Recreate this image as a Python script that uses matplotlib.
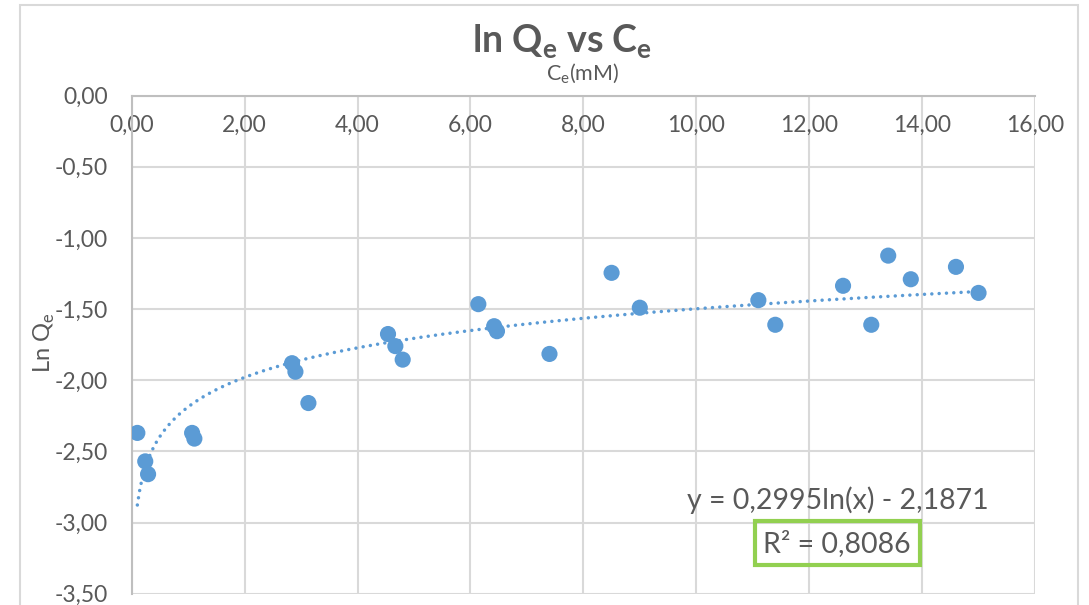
import numpy as np
import matplotlib.pyplot as plt
from matplotlib.patches import Rectangle
from matplotlib.ticker import FuncFormatter

plt.rcParams['font.family'] = ['Lato', 'DejaVu Sans']

# equilibrium concentration (mM) and ln of adsorbed amount
ce = [0.10, 0.24, 0.29, 1.07, 1.11, 2.84, 2.90, 3.13, 4.54, 4.67, 4.80,
      6.14, 6.42, 6.47, 7.40, 8.50, 9.00, 11.10, 11.40, 12.60, 13.10,
      13.40, 13.80, 14.60, 15.00]
ln_qe = [-2.37, -2.57, -2.66, -2.37, -2.41, -1.88, -1.94, -2.16, -1.675,
         -1.76, -1.855, -1.465, -1.62, -1.655, -1.815, -1.245, -1.49,
         -1.437, -1.61, -1.336, -1.61, -1.124, -1.29, -1.203, -1.386]

# log trendline coefficients
slope = 0.2995
intercept = -2.1871
r2 = 0.8086

txt = '#595959'
grid = '#D9D9D9'
blue = '#5B9BD5'

fig = plt.figure(figsize=(10.89, 6.05), dpi=100)
W, H = 1089, 605

# chart frame
fig.patches.append(Rectangle((20 / W, -0.1), (1078 - 20) / W, 1.1 - 5 / H,
                             transform=fig.transFigure, fill=False,
                             edgecolor=grid, linewidth=1.5))

ax = fig.add_axes([131.7 / W, 1 - 593.7 / H, (1035 - 131.7) / W, (593.7 - 95.7) / H])
ax.set_xlim(0, 16)
ax.set_ylim(-3.5, 0)
ax.set_xticks(np.arange(0, 16.1, 2))
ax.set_yticks(np.arange(-3.5, 0.01, 0.5))

comma = FuncFormatter(lambda v, p: f'{v:.2f}'.replace('.', ','))
ax.xaxis.set_major_formatter(comma)
ax.yaxis.set_major_formatter(comma)

ax.grid(True, color=grid, linewidth=1.5)
ax.set_axisbelow(True)
ax.spines['bottom'].set_position(('data', 0))
ax.spines['bottom'].set_color('#BFBFBF')
ax.spines['left'].set_color('#BFBFBF')
ax.spines['bottom'].set_linewidth(1.5)
ax.spines['left'].set_linewidth(1.5)
ax.spines['top'].set_visible(False)
ax.spines['right'].set_visible(False)
ax.tick_params(axis='x', length=0, pad=14, labelsize=16.5, labelcolor=txt)
ax.tick_params(axis='y', length=0, pad=17, labelsize=16.5, labelcolor=txt)

ax.scatter(ce, ln_qe, s=135, color=blue, edgecolors='none', zorder=3)

xs = np.linspace(min(ce), max(ce), 400)
ax.plot(xs, slope * np.log(xs) + intercept, color=blue, linewidth=2.5,
        linestyle=(0, (0.01, 2.1)), dash_capstyle='round', zorder=2)

eq = f'y = {slope:.4f}ln(x) - {abs(intercept):.4f}'.replace('.', ',')
ax.text(0.782, 0.187, eq, transform=ax.transAxes, ha='center', va='center',
        fontsize=20.5, color=txt)
ax.text(0.781, 0.101, f'R² = {r2:.4f}'.replace('.', ','), transform=ax.transAxes,
        ha='center', va='center', fontsize=20.5, color=txt,
        bbox=dict(boxstyle='square,pad=0.3', facecolor='none',
                  edgecolor='#92D050', linewidth=3))

fig.text(562 / W, 1 - 42 / H, r'ln Q$_\mathregular{e}$ vs C$_\mathregular{e}$',
         ha='center', va='center', fontsize=27, fontweight='bold', color=txt)
fig.text(583 / W, 1 - 74 / H, r'C$_\mathregular{e}$(mM)', ha='center',
         va='center', fontsize=15.5, color=txt)
fig.text(44 / W, 1 - 343 / H, r'Ln Q$_\mathregular{e}$', ha='center',
         va='center', rotation=90, fontsize=17, color=txt)

fig.savefig('out.png', dpi=100)
